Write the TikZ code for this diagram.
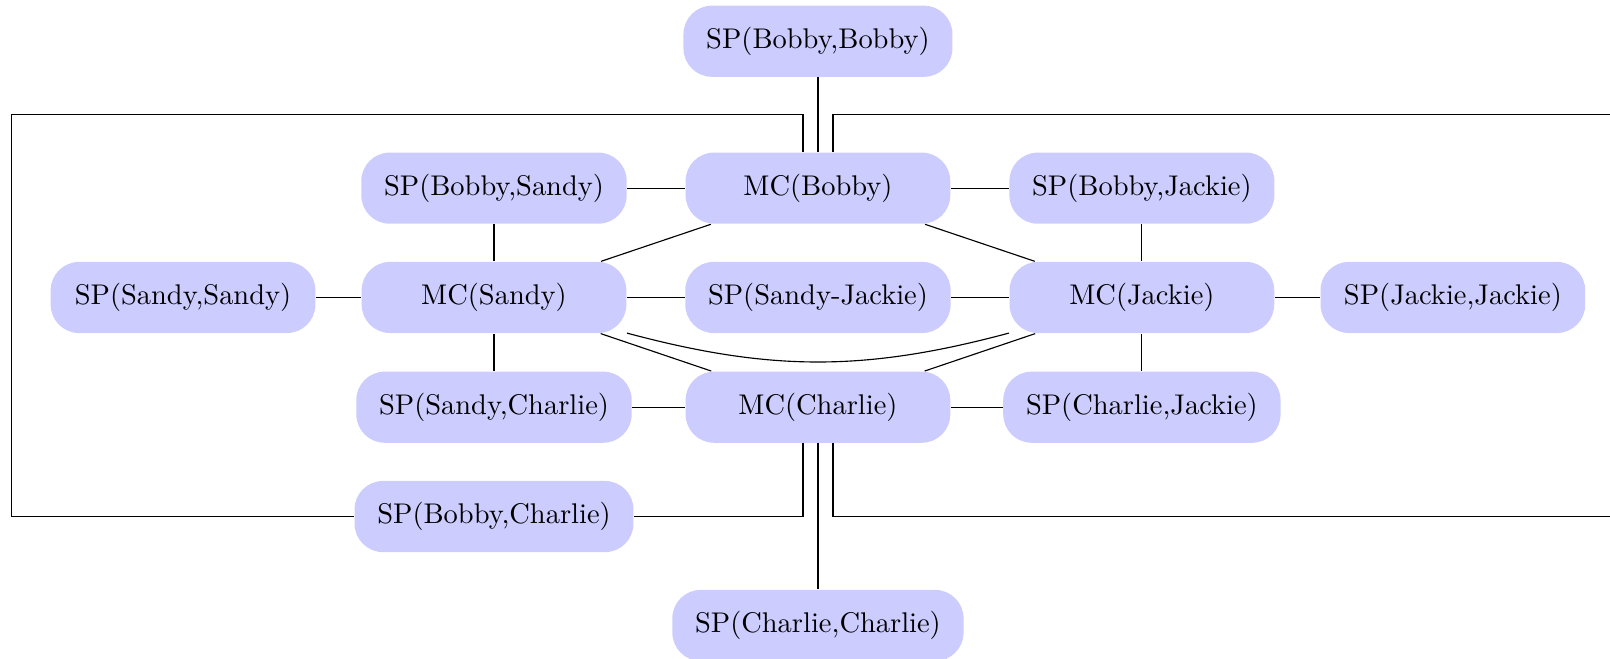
\documentclass[tikz,border=0pt]{standalone}
\usetikzlibrary{backgrounds}
\pgfdeclarelayer{edgelayer}
\pgfdeclarelayer{nodelayer}
\pgfsetlayers{edgelayer,nodelayer,main}
\tikzstyle{none}=[inner sep=0pt]
\tikzstyle{box}=[rectangle,rounded corners=10pt,fill=blue!20,draw=none,minimum width=93pt,minimum height=25pt,inner xsep=8pt]

\begin{document}
\begin{tikzpicture}
	\useasboundingbox (-10.1, 3.673) rectangle (9.78, -4.463);
	\begin{pgfonlayer}{nodelayer}
		\node [style=box] (0) at (0, 3.164) {SP(Bobby,Bobby)};
		\node [style=box] (1) at (0, 1.35) {MC(Bobby)};
		\node [style=box] (2) at (-4, 1.35) {SP(Bobby,Sandy)};
		\node [style=box] (3) at (4, 1.35) {SP(Bobby,Jackie)};
		\node [style=box] (4) at (-7.84, 0) {SP(Sandy,Sandy)};
		\node [style=box] (5) at (-4, 0) {MC(Sandy)};
		\node [style=box] (6) at (0, 0) {SP(Sandy-Jackie)};
		\node [style=box] (7) at (4, 0) {MC(Jackie)};
		\node [style=box] (8) at (7.84, 0) {SP(Jackie,Jackie)};
		\node [style=box] (9) at (-4, -1.355) {SP(Sandy,Charlie)};
		\node [style=box] (10) at (0, -1.355) {MC(Charlie)};
		\node [style=box] (11) at (4, -1.355) {SP(Charlie,Jackie)};
		\node [style=box] (12) at (-4, -2.705) {SP(Bobby,Charlie)};
		\node [style=box] (13) at (0, -4.05) {SP(Charlie,Charlie)};
		\node [style=none] (14) at (-0.185, 2.262) {};
		\node [style=none] (15) at (-9.96, 2.262) {};
		\node [style=none] (16) at (-9.96, -2.705) {};
		\node [style=none] (17) at (0.185, 2.262) {};
		\node [style=none] (18) at (10.5, 2.262) {};
		\node [style=none] (19) at (-0.185, -2.705) {};
		\node [style=none] (20) at (0.185, -2.705) {};
		\node [style=none] (21) at (10.5, -2.705) {};
	\end{pgfonlayer}
	\begin{pgfonlayer}{edgelayer}
		\draw (0) to (1);
		\draw (2) to (1);
		\draw (1) to (3);
		\draw (2) to (5);
		\draw (3) to (7);
		\draw (1) to (5);
		\draw (1) to (7);
		\draw (4) to (5);
		\draw (5) to (6);
		\draw (6) to (7);
		\draw (7) to (8);
		\draw (5) to (9);
		\draw (7) to (11);
		\draw (5) to (10);
		\draw (7) to (10);
		\draw (9) to (10);
		\draw (10) to (11);
		\draw (10) to (13);
		\draw (5) to[bend right=15] (7);
		\draw ([xshift=-0.185cm]1.north) to (14.center) to (15.center) to (16.center) to (12);
		\draw ([xshift=0.185cm]1.north) to (17.center) to (18.center);
		\draw ([xshift=-0.185cm]10.south) to (19.center) to (12);
		\draw ([xshift=0.185cm]10.south) to (20.center) to (21.center);
	\end{pgfonlayer}
\end{tikzpicture}
\end{document}
